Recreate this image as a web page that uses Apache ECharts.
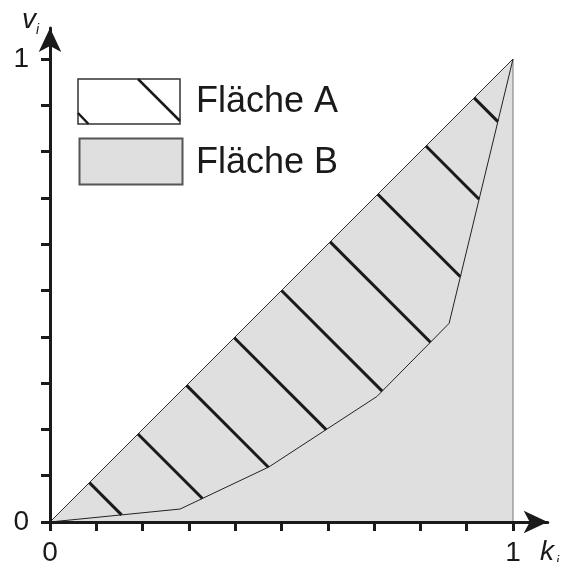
<!DOCTYPE html>
<html>
<head>
<meta charset="utf-8">
<title>Lorenzkurve</title>
<script src="https://cdn.jsdelivr.net/npm/echarts@6.0.0/dist/echarts.min.js"></script>
<style>
  html, body { margin: 0; padding: 0; background: #fff; }
  #main { width: 561px; height: 562px; }
</style>
</head>
<body>
<div id="main"></div>
<script>
// Lorenzkurve (kumulierte Anteile)
var kWerte = [0, 0.281, 0.473, 0.706, 0.862, 1];
var vWerte = [0, 0.028, 0.119, 0.271, 0.429, 1];
// Schraffur Fläche A: Startpunkte auf der Diagonale
var schraffurStart = [0.085, 0.19, 0.295, 0.398, 0.5, 0.605, 0.708, 0.812, 0.916];
// Achsen
var tickWerte = [0, 0.1, 0.2, 0.3, 0.4, 0.5, 0.6, 0.7, 0.8, 0.9, 1];
var labelWerte = [0, 1];
var legendeNamen = ["Fläche A", "Fläche B"];

var schrift = "'Liberation Sans', Arial, sans-serif";
var schwarz = "#1a1a1a";

// Senkrechte zur Diagonale durch (t,t) mit der Kurve schneiden
function schnittMitKurve(t) {
  for (var i = 0; i < kWerte.length - 1; i++) {
    var x1 = kWerte[i], y1 = vWerte[i];
    var dx = kWerte[i + 1] - x1, dy = vWerte[i + 1] - y1;
    var u = (2 * t - x1 - y1) / (dx + dy);
    if (u >= 0 && u <= 1) {
      return [x1 + u * dx, y1 + u * dy];
    }
  }
  return [t, t];
}

var kurve = [];
for (var i = 0; i < kWerte.length; i++) {
  kurve.push([kWerte[i], vWerte[i]]);
}
var schraffur = schraffurStart.map(function(t) {
  return { coords: [[t, t], schnittMitKurve(t)] };
});

function achse(labelMargin, padding) {
  return {
    type: "value",
    min: 0,
    z: 5,
    axisLine: {
      show: true,
      symbol: ["none", "arrow"],
      symbolSize: [17, 24],
      lineStyle: { color: schwarz, width: 3 }
    },
    axisTick: {
      show: true,
      customValues: tickWerte,
      length: 9,
      lineStyle: { color: schwarz, width: 3 }
    },
    axisLabel: {
      customValues: labelWerte,
      fontSize: 28,
      fontFamily: schrift,
      color: schwarz,
      margin: labelMargin,
      padding: padding
    },
    splitLine: { show: false }
  };
}

var xMax = 1.075, yMax = 1.067;
var xAchse = achse(17, 0);
xAchse.max = xMax;
var yAchse = achse(21, [8, 0, 0, 0]);
yAchse.max = yMax;

var myChart = echarts.init(document.getElementById("main"));

var option = {
  animation: false,
  grid: {
    left: 50,
    top: 522 - yMax * 463,
    width: xMax * 463,
    height: yMax * 463,
    containLabel: false,
    outerBoundsMode: "none"
  },
  xAxis: xAchse,
  yAxis: yAchse,
  series: [
    {
      // Fläche unter der Diagonale (A + B)
      type: "line",
      data: [[0, 0], [1, 1]],
      showSymbol: false,
      lineStyle: { color: "#333", width: 1 },
      areaStyle: { color: "#dfdfdf", opacity: 1 },
      z: 1
    },
    {
      type: "line",
      data: [[1, 0], [1, 1]],
      showSymbol: false,
      lineStyle: { color: "#777", width: 1 },
      z: 2
    },
    {
      type: "lines",
      coordinateSystem: "cartesian2d",
      data: schraffur,
      lineStyle: { color: schwarz, width: 3, opacity: 1, cap: "butt" },
      z: 3
    },
    {
      type: "line",
      data: kurve,
      showSymbol: false,
      lineStyle: { color: "#222", width: 1 },
      z: 4
    }
  ],
  graphic: [
    // Legende
    { type: "rect", shape: { x: 78, y: 79, width: 102, height: 45 },
      style: { fill: "#fff", stroke: "#333", lineWidth: 1.5 } },
    { type: "line", shape: { x1: 138, y1: 79, x2: 180, y2: 121 },
      style: { stroke: schwarz, lineWidth: 2.5 } },
    { type: "line", shape: { x1: 78, y1: 113, x2: 88.5, y2: 124 },
      style: { stroke: schwarz, lineWidth: 2.5 } },
    { type: "rect", shape: { x: 79.5, y: 138.5, width: 103, height: 46 },
      style: { fill: "#dfdfdf", stroke: "#555", lineWidth: 2 } },
    { type: "text", x: 196, y: 102,
      style: { text: legendeNamen[0], fontSize: 36, fontFamily: schrift, fill: schwarz, verticalAlign: "middle" } },
    { type: "text", x: 196, y: 163,
      style: { text: legendeNamen[1], fontSize: 36, fontFamily: schrift, fill: schwarz, verticalAlign: "middle" } },
    // Achsenbeschriftung
    { type: "text", x: 22, y: 34,
      style: { text: "v", fontSize: 28, fontStyle: "italic", fontFamily: schrift, fill: schwarz, verticalAlign: "bottom" } },
    { type: "text", x: 36, y: 37,
      style: { text: "i", fontSize: 14, fontStyle: "italic", fontFamily: schrift, fill: schwarz, verticalAlign: "bottom" } },
    { type: "text", x: 540, y: 566,
      style: { text: "k", fontSize: 28, fontStyle: "italic", fontFamily: schrift, fill: schwarz, verticalAlign: "bottom" } },
    { type: "text", x: 556, y: 569,
      style: { text: "i", fontSize: 14, fontStyle: "italic", fontFamily: schrift, fill: schwarz, verticalAlign: "bottom" } }
  ]
};
myChart.setOption(option);
</script>
</body>
</html>
